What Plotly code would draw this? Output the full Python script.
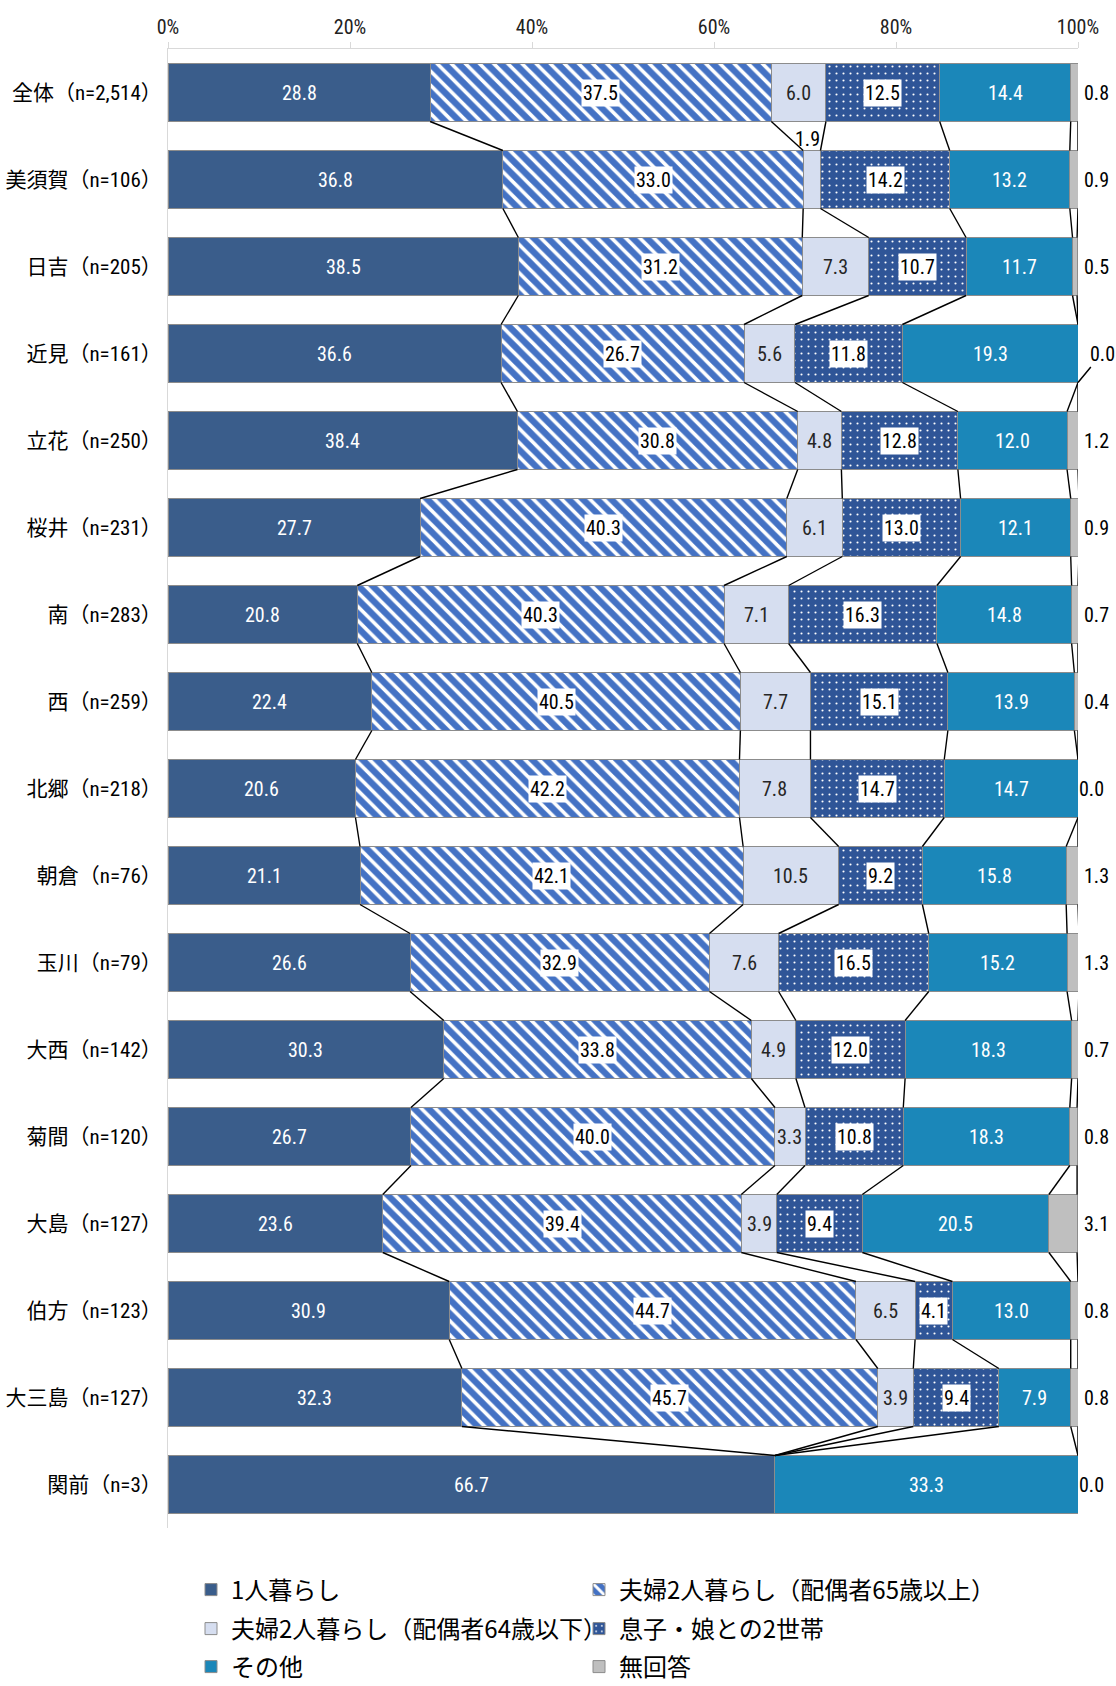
import plotly.graph_objects as go

# ---------------- data ----------------
categories = ["全体（n=2,514）", "美須賀（n=106）", "日吉（n=205）", "近見（n=161）",
              "立花（n=250）", "桜井（n=231）", "南（n=283）", "西（n=259）",
              "北郷（n=218）", "朝倉（n=76）", "玉川（n=79）", "大西（n=142）",
              "菊間（n=120）", "大島（n=127）", "伯方（n=123）", "大三島（n=127）",
              "関前（n=3）"]

series_names = ["1人暮らし", "夫婦2人暮らし（配偶者65歳以上）", "夫婦2人暮らし（配偶者64歳以下）",
                "息子・娘との2世帯", "その他", "無回答"]

alone    = [28.8, 36.8, 38.5, 36.6, 38.4, 27.7, 20.8, 22.4, 20.6, 21.1, 26.6, 30.3, 26.7, 23.6, 30.9, 32.3, 66.7]
couple65 = [37.5, 33.0, 31.2, 26.7, 30.8, 40.3, 40.3, 40.5, 42.2, 42.1, 32.9, 33.8, 40.0, 39.4, 44.7, 45.7, 0.0]
couple64 = [6.0, 1.9, 7.3, 5.6, 4.8, 6.1, 7.1, 7.7, 7.8, 10.5, 7.6, 4.9, 3.3, 3.9, 6.5, 3.9, 0.0]
twogen   = [12.5, 14.2, 10.7, 11.8, 12.8, 13.0, 16.3, 15.1, 14.7, 9.2, 16.5, 12.0, 10.8, 9.4, 4.1, 9.4, 0.0]
other    = [14.4, 13.2, 11.7, 19.3, 12.0, 12.1, 14.8, 13.9, 14.7, 15.8, 15.2, 18.3, 18.3, 20.5, 13.0, 7.9, 33.3]
noans    = [0.8, 0.9, 0.5, 0.0, 1.2, 0.9, 0.7, 0.4, 0.0, 1.3, 1.3, 0.7, 0.8, 3.1, 0.8, 0.8, 0.0]

x_tick_vals = [0, 20, 40, 60, 80, 100]
x_tick_labels = ["0%", "20%", "40%", "60%", "80%", "100%"]

# ---------------- styles ----------------
FONT = ("Liberation Sans Narrow, Roboto Condensed, DejaVu Sans Condensed, "
        "Noto Sans CJK JP, sans-serif")
JFONT = "Noto Sans CJK JP, sans-serif"
EDGE = "rgb(140,140,140)"

series = [alone, couple65, couple64, twogen, other, noans]
colors = ["#3A5D8B", "#4472C4", "#D6DEF0", "#2F5597", "#1B87B9", "#BFBFBF"]
patterns = [None,
            dict(shape="\\", fgcolor="white", bgcolor="#4472C4", size=10, solidity=0.36, fillmode="replace"),
            None,
            dict(shape=".", fgcolor="white", bgcolor="#2F5597", size=7, solidity=0.07, fillmode="replace"),
            None, None]
legend_ids = ["legend", "legend2", "legend3", "legend4", "legend5", "legend6"]

n = len(categories)
ypos = list(range(n))
half = 1 / 3.0  # half bar thickness (bargap 1/3)

fig = go.Figure()
for k, vals in enumerate(series):
    marker = dict(color=colors[k], line=dict(color=EDGE, width=1))
    if patterns[k] is not None:
        marker["pattern"] = patterns[k]
    fig.add_trace(go.Bar(
        x=vals, y=ypos, orientation="h", name=series_names[k],
        marker=marker, legend=legend_ids[k], hoverinfo="skip",
    ))

# cumulative boundaries
cums = []
for i in range(n):
    c = []
    s = 0.0
    for k in range(len(series)):
        s += series[k][i]
        c.append(s)
    cums.append(c)

# series (connector) lines between adjacent bars
lx, ly = [], []
for i in range(n - 1):
    for k in range(len(series)):
        lx += [cums[i][k], cums[i + 1][k], None]
        ly += [i + half, i + 1 - half, None]
fig.add_trace(go.Scatter(x=lx, y=ly, mode="lines", line=dict(color="black", width=1.4),
                         showlegend=False, hoverinfo="skip"))

# ---------------- labels ----------------
annotations = []
label_font = 20
for i in range(n):
    start = 0.0
    for k in range(len(series)):
        v = series[k][i]
        mid = start + v / 2.0
        start += v
        txt = f"{v:.1f}"
        if k == 5:
            if categories[i].startswith("近見"):
                annotations.append(dict(x=100, y=i + half, text=txt, showarrow=True,
                                        arrowhead=0, arrowwidth=1.5, arrowcolor="black",
                                        ax=24, ay=-29, standoff=0,
                                        font=dict(family=FONT, size=label_font, color="black")))
            else:
                annotations.append(dict(x=100, y=i, text=txt, showarrow=False,
                                        xanchor="left", xshift=(4 if v > 0 else -1),
                                        font=dict(family=FONT, size=label_font, color="black")))
            continue
        if v <= 0:
            continue
        if k in (0, 4):
            annotations.append(dict(x=mid, y=i, text=txt, showarrow=False,
                                    font=dict(family=FONT, size=label_font, color="white")))
        elif k == 2:
            if v < 2.5:
                annotations.append(dict(x=mid, y=i - half, text=txt, showarrow=False,
                                        yanchor="bottom", yshift=-2, xshift=-4,
                                        font=dict(family=FONT, size=label_font, color="black")))
            else:
                annotations.append(dict(x=mid, y=i, text=txt, showarrow=False,
                                        font=dict(family=FONT, size=label_font, color="#262626")))
        else:
            annotations.append(dict(x=mid, y=i, text=txt, showarrow=False, bgcolor="white",
                                    borderpad=1,
                                    font=dict(family=FONT, size=label_font, color="black")))

# ---------------- layout ----------------
W, H = 1116, 1686
top, bottom = 49, 1528.5
left, right = 168, 1078
plot_w = right - left

# legend grid: (text-start x px, row-centre y px)
legend_pos = [(231, 1590), (619, 1590), (231, 1629), (619, 1629), (231, 1667), (619, 1667)]

legends = {}
for lid, (tx, cy) in zip(legend_ids, legend_pos):
    legends[lid] = dict(orientation="v", xref="paper", yref="container",
                        x=(tx - 40 - left) / plot_w, xanchor="left",
                        y=1 - cy / H, yanchor="middle",
                        font=dict(family=JFONT, size=24, color="black"),
                        bgcolor="rgba(0,0,0,0)", borderwidth=0,
                        itemclick=False, itemdoubleclick=False)

fig.update_layout(
    width=W, height=H,
    margin=dict(l=left, r=W - right, t=top, b=H - bottom),
    barmode="stack", bargap=1 / 3.0,
    paper_bgcolor="white", plot_bgcolor="white",
    font=dict(family=FONT, color="black"),
    xaxis=dict(side="top", range=[0, 100], tickvals=x_tick_vals, ticktext=x_tick_labels,
               ticks="outside", ticklen=6, tickcolor="#d9d9d9", showline=True,
               linecolor="#d9d9d9", linewidth=1, showgrid=False, zeroline=False,
               automargin=False,
               tickfont=dict(family=FONT, size=20, color="#222"), fixedrange=True),
    yaxis=dict(range=[n - 0.5, -0.5], tickvals=ypos, ticktext=categories, ticks="",
               showline=True, linecolor="#d9d9d9", linewidth=1, showgrid=False,
               zeroline=False, ticklabelstandoff=1, automargin=False,
               tickfont=dict(family=FONT, size=21, color="black"), fixedrange=True),
    annotations=annotations,
    showlegend=True,
    **legends,
)

fig.write_html("out.html")
